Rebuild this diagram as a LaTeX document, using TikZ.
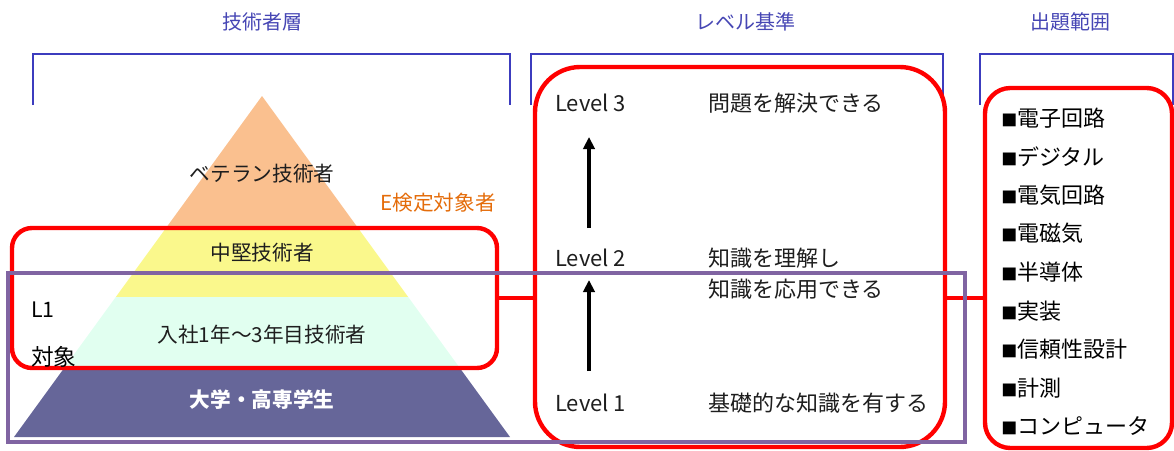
\documentclass[tikz,border=0pt]{standalone}
\usepackage{fontspec}
\setmainfont{Noto Sans CJK JP}
\usetikzlibrary{arrows.meta,fit}
\definecolor{hdrblue}{RGB}{70,70,180}
\definecolor{brkblue}{RGB}{60,60,190}
\definecolor{layorange}{RGB}{250,192,143}
\definecolor{layyellow}{RGB}{250,248,140}
\definecolor{laymint}{RGB}{225,255,240}
\definecolor{laydark}{RGB}{102,102,153}
\definecolor{boxred}{RGB}{255,0,0}
\definecolor{boxpurple}{RGB}{128,100,162}
\definecolor{eorange}{RGB}{228,108,10}
\definecolor{txt}{RGB}{30,30,30}
\newcommand{\sqmark}{{\fontsize{12}{14}\selectfont ■}}
\begin{document}
\begin{tikzpicture}[x=0.75pt,y=-0.75pt,
  hdr/.style={font=\fontsize{15}{18}\selectfont, text=hdrblue, inner sep=0},
  bracket/.style={draw=brkblue, line width=1.1pt},
  lay/.style={font=\fontsize{15.5}{18}\selectfont, text=txt, inner sep=0},
  lvl/.style={font=\fontsize{16.5}{19}\selectfont, text=txt, inner sep=0, anchor=west},
  item/.style={font=\fontsize{16.5}{19}\selectfont, text=black, inner sep=0, anchor=west},
  redbox/.style={draw=boxred, line width=3.3pt, inner sep=0},
  purplebox/.style={draw=boxpurple, line width=2.5pt, inner sep=0},
  redlink/.style={draw=boxred, line width=3.3pt},
  uparrow/.style={draw=black, line width=2.8pt, -{Triangle[length=9pt,width=8.5pt]}}
]
\useasboundingbox (0,0) rectangle (1174,450);

% headers
\node[hdr] (h1) at (262,22) {技術者層};
\node[hdr] (h2) at (745,22) {レベル基準};
\node[hdr] (h3) at (1070,22) {出題範囲};
\draw[bracket] (33,105) |- (510,54) -- (510,105);
\draw[bracket] (531,105) |- (943,54) -- (943,105);
\draw[bracket] (980,105) |- (1173,54) -- (1173,105);

% pyramid
\fill[layorange] (262,96) -- (166,228) -- (358,228) -- cycle;
\fill[layyellow] (166,228) -- (115.8,297) -- (408.2,297) -- (358,228) -- cycle;
\fill[laymint] (115.8,297) -- (64.2,368) -- (459.8,368) -- (408.2,297) -- cycle;
\fill[laydark] (64.2,368) -- (14,437) -- (510,437) -- (459.8,368) -- cycle;

\node[lay] (p1) at (262,174) {ベテラン技術者};
\node[lay] (p2) at (262,253) {中堅技術者};
\node[lay] (p3) at (262,335) {入社1年～3年目技術者};
\node[lay, text=white, font=\fontsize{15.5}{18}\selectfont\bfseries] (p4) at (262,400) {大学・高専学生};
\node[lay, text=eorange] (eken) at (438,203) {E検定対象者};

% red boxes
\node[redbox, rounded corners=15pt, fit={(12,228) (497,368)}] (r1) {};
\node[redbox, rounded corners=34pt, fit={(535,67) (945,447)}] (r2) {};
\node[redbox, rounded corners=19pt, fit={(985,88) (1172,448)}] (r3) {};
\draw[redlink] (r1.east) -- (r1.east -| r2.west);
\draw[redlink] (r1.east -| r2.east) -- (r1.east -| r3.west);

% purple box
\node[purplebox, fit={(8,273) (965,442)}] (pb) {};

\node[lay, text=black, anchor=west, font=\fontsize{16}{19}\selectfont] (l1a) at (31,310) {L1};
\node[lay, text=black, anchor=west, font=\fontsize{17}{20}\selectfont] (l1b) at (31,357) {対象};

% levels
\node[lvl] (lv3) at (555,103) {Level 3};
\node[lvl] (lv2) at (555,258) {Level 2};
\node[lvl] (lv1) at (555,403) {Level 1};
\node[lvl] (d3) at (708,103) {問題を解決できる};
\node[lvl] (d2a) at (708,258) {知識を理解し};
\node[lvl] (d2b) at (708,289) {知識を応用できる};
\node[lvl] (d1) at (708,403) {基礎的な知識を有する};
\coordinate (a2s) at (589,228);
\coordinate (a2e) at (589,137);
\coordinate (a1s) at (589,371);
\coordinate (a1e) at (589,280);
\draw[uparrow] (a2s) -- (a2e);
\draw[uparrow] (a1s) -- (a1e);

% items
\node[item] (i1) at (1001,118) {\sqmark 電子回路};
\node[item] (i2) at (1001,157) {\sqmark デジタル};
\node[item] (i3) at (1001,195) {\sqmark 電気回路};
\node[item] (i4) at (1001,233) {\sqmark 電磁気};
\node[item] (i5) at (1001,272) {\sqmark 半導体};
\node[item] (i6) at (1001,311) {\sqmark 実装};
\node[item] (i7) at (1001,349) {\sqmark 信頼性設計};
\node[item] (i8) at (1001,388) {\sqmark 計測};
\node[item] (i9) at (1001,426) {\sqmark コンピュータ};
\end{tikzpicture}
\end{document}
